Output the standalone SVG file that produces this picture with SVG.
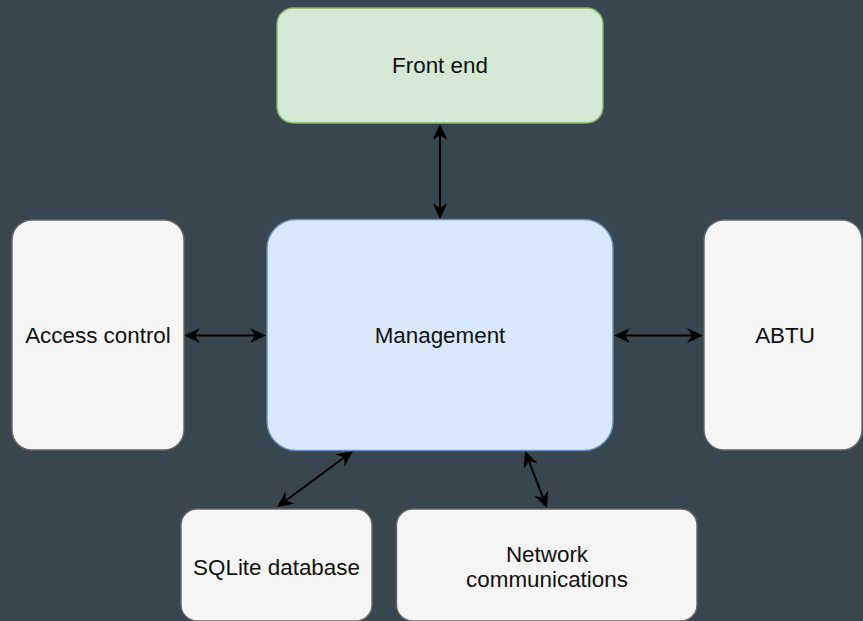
<svg xmlns="http://www.w3.org/2000/svg" width="863" height="621" viewBox="0 0 863 621">
  <defs>
    <style>
      .bg { fill: #37464f; }
      .node rect { stroke-width: 1.4; }
      .green rect { fill: #d5e8d4; stroke: #82b366; }
      .blue rect { fill: #dae8fc; stroke: #6c8ebf; }
      .grey rect { fill: #f5f5f5; stroke: #666666; }
      .node text { font-family: "Liberation Sans", Arial, sans-serif; font-size: 22.4px; fill: #111111; text-anchor: middle; }
      .edge { fill: none; stroke: #000000; stroke-width: 2; marker-start: url(#arrow); marker-end: url(#arrow); }
    </style>
    <!-- classic notched arrowhead; tip extends past the line end -->
    <marker id="arrow" viewBox="0 0 16 15" markerWidth="16" markerHeight="15" refX="5" refY="7.5" markerUnits="userSpaceOnUse" orient="auto-start-reverse">
      <path d="M0,0 L16,7.5 L0,15 L5,7.5 Z" fill="#000000"/>
    </marker>
  </defs>

  <rect class="bg" x="0" y="0" width="863" height="621"/>

  <g id="connectors">
    <path class="edge" d="M440,135 L440,208"/>
    <path class="edge" d="M195,335.5 L255,335.5"/>
    <path class="edge" d="M625,335.5 L692,335.5"/>
    <path class="edge" d="M285.9,500.5 L344.1,457.5"/>
    <path class="edge" d="M529,461.3 L543,497.7"/>
  </g>

  <g id="front-end" class="node green">
    <rect x="277" y="8" width="326" height="115" rx="16" ry="16"/>
    <text x="440" y="73">Front end</text>
  </g>

  <g id="management" class="node blue">
    <rect x="267" y="219.5" width="346" height="231" rx="29" ry="29"/>
    <text x="440" y="343">Management</text>
  </g>

  <g id="access-control" class="node grey">
    <rect x="12" y="220" width="172" height="230" rx="20" ry="20"/>
    <text x="98" y="343">Access control</text>
  </g>

  <g id="abtu" class="node grey">
    <rect x="704" y="220" width="158" height="230" rx="20" ry="20"/>
    <text x="785" y="343">ABTU</text>
  </g>

  <g id="sqlite-database" class="node grey">
    <rect x="181" y="509" width="191" height="112" rx="16" ry="16"/>
    <text x="276.5" y="575">SQLite database</text>
  </g>

  <g id="network-communications" class="node grey">
    <rect x="396.5" y="509" width="300.5" height="112" rx="16" ry="16"/>
    <text x="547" y="562">Network</text>
    <text x="547" y="587">communications</text>
  </g>
</svg>
